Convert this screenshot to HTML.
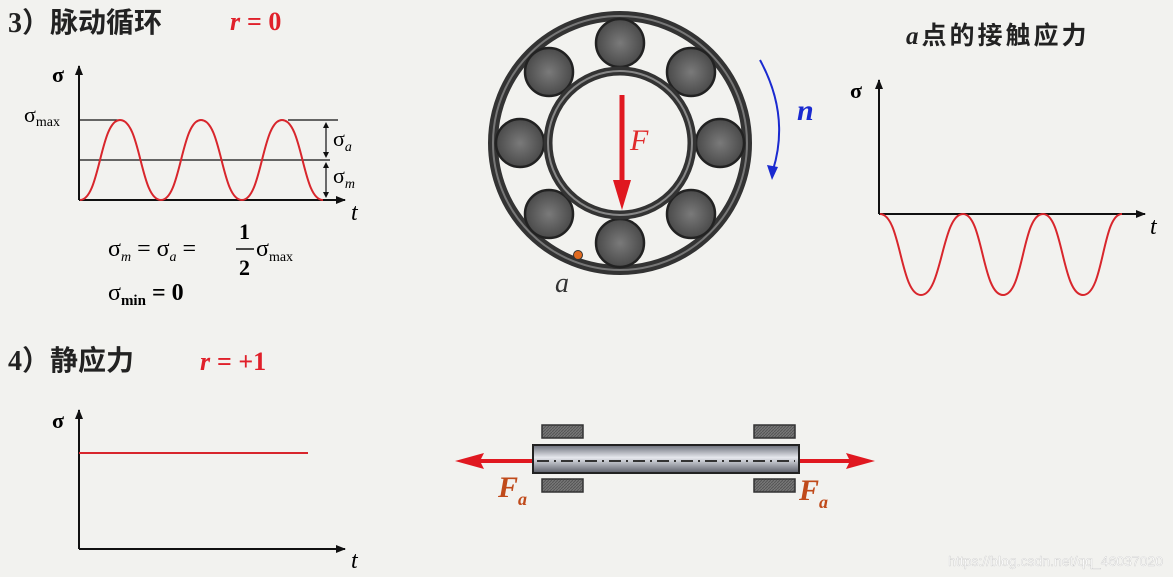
<!DOCTYPE html><html><head><meta charset="utf-8"><style>
body{margin:0;background:#f2f2ef;}
svg{display:block;font-family:"Liberation Serif","Noto Serif CJK SC",serif;}
.cj{font-family:"Liberation Serif","Noto Sans CJK SC",sans-serif;font-weight:bold;}
</style></head><body>
<svg width="1173" height="577" viewBox="0 0 1173 577">
<defs>
<marker id="ar" markerWidth="10" markerHeight="8" refX="9" refY="4" orient="auto" markerUnits="userSpaceOnUse"><path d="M0,0L10,4L0,8z" fill="#111"/></marker>
<radialGradient id="ball"><stop offset="0" stop-color="#7a7a7a"/><stop offset="1" stop-color="#4a4a4a"/></radialGradient>
<linearGradient id="shaft" x1="0" y1="0" x2="0" y2="1"><stop offset="0" stop-color="#6a6e78"/><stop offset="0.45" stop-color="#e6e8ee"/><stop offset="1" stop-color="#5a5e68"/></linearGradient>
<pattern id="hatch" width="3" height="3" patternUnits="userSpaceOnUse"><rect width="3" height="3" fill="#777"/><path d="M0,3L3,0" stroke="#555" stroke-width="1"/></pattern>
</defs>
<text x="8" y="32" class="cj" font-size="28" fill="#222">3）脉动循环</text>
<text x="230" y="30" font-size="26" font-weight="bold" font-style="italic" fill="#e0202a">r</text>
<text x="247" y="30" font-size="26" font-weight="bold" fill="#e0202a">= 0</text>
<!-- chart 1 -->
<line x1="79" y1="200" x2="79" y2="66" stroke="#111" stroke-width="2" marker-end="url(#ar)"/>
<line x1="79" y1="200" x2="345" y2="200" stroke="#111" stroke-width="2" marker-end="url(#ar)"/>
<text x="52" y="82" font-size="22" font-weight="bold">σ</text>
<text x="24" y="122" font-size="22">σ<tspan font-size="14" dy="4">max</tspan></text>
<line x1="79" y1="120" x2="118" y2="120" stroke="#111" stroke-width="1.3"/>
<line x1="288" y1="120" x2="338" y2="120" stroke="#111" stroke-width="1.3"/>
<line x1="79" y1="160" x2="330" y2="160" stroke="#111" stroke-width="1.3"/>
<path d="M80,200 C100,200 100,120 120,120 C141,120 140,200 161,200 C181,200 181,120 201,120 C222,120 221,200 242,200 C262,200 262,120 282,120 C303,120 302,200 323,200" fill="none" stroke="#d8262c" stroke-width="2"/>
<g stroke="#111" stroke-width="1.2"><line x1="326" y1="124" x2="326" y2="156"/><line x1="326" y1="164" x2="326" y2="196"/></g>
<g fill="#111"><path d="M323,128L326,122L329,128z"/><path d="M323,152L326,158L329,152z"/><path d="M323,168L326,162L329,168z"/><path d="M323,192L326,198L329,192z"/></g>
<text x="333" y="146" font-size="22">σ<tspan font-size="14" font-style="italic" dy="5">a</tspan></text>
<text x="333" y="183" font-size="22">σ<tspan font-size="14" font-style="italic" dy="5">m</tspan></text>
<text x="351" y="220" font-size="24" font-style="italic">t</text>
<text x="108" y="256" font-size="24">σ<tspan font-size="14" font-style="italic" dy="5">m</tspan><tspan dy="-5"> = σ</tspan><tspan font-size="14" font-style="italic" dy="5">a</tspan><tspan dy="-5"> =</tspan></text>
<text x="239" y="239" font-size="22" font-weight="bold">1</text>
<line x1="236" y1="249" x2="254" y2="249" stroke="#111" stroke-width="1.5"/>
<text x="239" y="275" font-size="22" font-weight="bold">2</text>
<text x="256" y="256" font-size="24">σ<tspan font-size="14" dy="5">max</tspan></text>
<text x="108" y="300" font-size="24">σ<tspan font-size="15" font-weight="bold" dy="5">min</tspan><tspan dy="-5" font-weight="bold"> = 0</tspan></text>
<!-- bearing -->
<circle cx="620" cy="143" r="127" fill="none" stroke="#333" stroke-width="10"/>
<circle cx="620" cy="143" r="127" fill="none" stroke="#777" stroke-width="2"/>
<g stroke="#222" stroke-width="2.5" fill="url(#ball)">
<circle cx="620" cy="43" r="24"/><circle cx="691" cy="72" r="24"/><circle cx="720" cy="143" r="24"/><circle cx="691" cy="214" r="24"/><circle cx="620" cy="243" r="24"/><circle cx="549" cy="214" r="24"/><circle cx="520" cy="143" r="24"/><circle cx="549" cy="72" r="24"/></g>
<circle cx="620" cy="143" r="72" fill="#f2f2ef" stroke="#333" stroke-width="9"/>
<circle cx="620" cy="143" r="72" fill="none" stroke="#888" stroke-width="2"/>
<line x1="622" y1="95" x2="622" y2="182" stroke="#e01820" stroke-width="5"/>
<path d="M613,180L622,210L631,180z" fill="#e01820"/>
<text x="630" y="150" font-size="30" font-style="italic" fill="#e02a2a">F</text>
<circle cx="578" cy="255" r="4.5" fill="#e06a20" stroke="#333" stroke-width="1"/>
<text x="555" y="292" font-size="28" font-style="italic" fill="#333">a</text>
<path d="M760,60 Q790,115 773,170" fill="none" stroke="#1a2ad0" stroke-width="2"/>
<path d="M767,165L772,180L778,167z" fill="#1a2ad0"/>
<text x="797" y="120" font-size="30" font-weight="bold" font-style="italic" fill="#1a2ad0">n</text>
<!-- right chart -->
<text x="906" y="44" class="cj" font-size="25" fill="#222" letter-spacing="3"><tspan font-style="italic">a</tspan>点的接触应力</text>
<line x1="879" y1="214" x2="879" y2="80" stroke="#111" stroke-width="2" marker-end="url(#ar)"/>
<line x1="879" y1="214" x2="1145" y2="214" stroke="#111" stroke-width="2" marker-end="url(#ar)"/>
<text x="850" y="98" font-size="22" font-weight="bold">σ</text>
<text x="1150" y="234" font-size="24" font-style="italic">t</text>
<path d="M880,214 C901,214 900,295 921,295 C942,295 942,214 963,214 C983,214 982,295 1003,295 C1024,295 1022,214 1043,214 C1063,214 1062,295 1083,295 C1104,295 1102,214 1122,214" fill="none" stroke="#d8262c" stroke-width="2"/>
<!-- 4 -->
<text x="8" y="370" class="cj" font-size="28" fill="#222">4）静应力</text>
<text x="200" y="370" font-size="26" font-weight="bold" font-style="italic" fill="#e0202a">r</text>
<text x="217" y="370" font-size="26" font-weight="bold" fill="#e0202a">= +1</text>
<line x1="79" y1="549" x2="79" y2="410" stroke="#111" stroke-width="2" marker-end="url(#ar)"/>
<line x1="79" y1="549" x2="345" y2="549" stroke="#111" stroke-width="2" marker-end="url(#ar)"/>
<text x="52" y="428" font-size="22" font-weight="bold">σ</text>
<text x="351" y="568" font-size="24" font-style="italic">t</text>
<line x1="79" y1="453" x2="308" y2="453" stroke="#d8262c" stroke-width="2"/>
<!-- shaft -->
<g fill="url(#hatch)" stroke="#333" stroke-width="1.5">
<rect x="542" y="425" width="41" height="13"/><rect x="542" y="479" width="41" height="13"/>
<rect x="754" y="425" width="41" height="13"/><rect x="754" y="479" width="41" height="13"/></g>
<line x1="470" y1="461" x2="533" y2="461" stroke="#e01820" stroke-width="4"/>
<path d="M455,461L484,453L480,461L484,469z" fill="#e01820"/>
<line x1="799" y1="461" x2="860" y2="461" stroke="#e01820" stroke-width="4"/>
<path d="M875,461L846,453L850,461L846,469z" fill="#e01820"/>
<rect x="533" y="445" width="266" height="28" fill="url(#shaft)" stroke="#222" stroke-width="2"/>
<line x1="537" y1="461" x2="795" y2="461" stroke="#333" stroke-width="2" stroke-dasharray="12,5,2,5"/>
<text x="498" y="497" font-size="30" font-weight="bold" font-style="italic" fill="#c04a1a">F<tspan font-size="18" dy="8">a</tspan></text>
<text x="799" y="500" font-size="30" font-weight="bold" font-style="italic" fill="#c04a1a">F<tspan font-size="18" dy="8">a</tspan></text>
<text x="1163" y="566" font-size="14" fill="#fff" text-anchor="end" font-family="Liberation Sans,sans-serif" stroke="#bbb" stroke-width="0.3">https://blog.csdn.net/qq_46037020</text>
</svg></body></html>
